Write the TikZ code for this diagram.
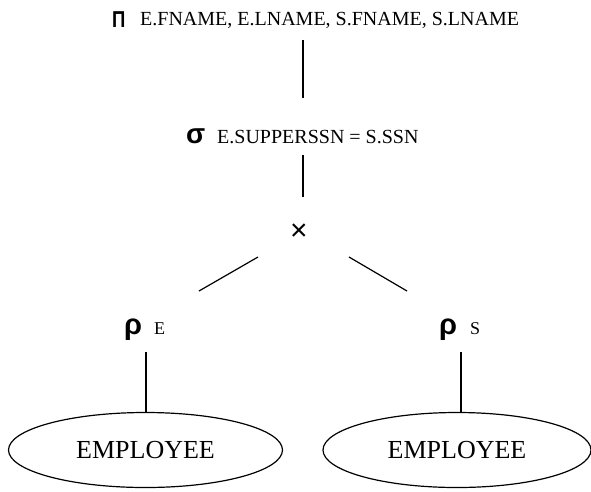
\documentclass[tikz,border=0pt]{standalone}
\usepackage{fontspec}
\setmainfont{Liberation Serif}
\newfontfamily\symf{Liberation Sans}
\usetikzlibrary{shapes.geometric}
\begin{document}
\begin{tikzpicture}[x=1pt,y=-1pt,
  lbl/.style={inner sep=0pt,font=\fontsize{20}{24}\selectfont},
  sym/.style={inner sep=0pt},
  rel/.style={draw,ellipse,line width=1.2pt,inner sep=0pt,minimum width=274pt,minimum height=75pt,font=\fontsize{26}{30}\selectfont},
  edge/.style={line width=1.2pt}]
\useasboundingbox (0,0) rectangle (591,491);
% projection
\node[sym,anchor=base west,font=\symf\bfseries\fontsize{23}{26}\selectfont,xscale=0.8] (pi) at (112,27) {Π};
\node[lbl,anchor=base west] (pitxt) at (140,25) {E.FNAME, E.LNAME, S.FNAME, S.LNAME};
% selection
\node[sym,anchor=base west,font=\symf\bfseries\fontsize{28}{30}\selectfont] (sigma) at (186,143) {σ};
\node[lbl,anchor=base west] (sigtxt) at (217,143) {E.SUPPERSSN = S.SSN};
% product
\node[sym,font=\symf\fontsize{30}{32}\selectfont] (times) at (299,232) {×};
% renames
\node[sym,anchor=base west,font=\symf\bfseries\fontsize{29}{32}\selectfont] (rhoE) at (124,334) {ρ};
\node[lbl,anchor=base west,font=\fontsize{18}{20}\selectfont] (subE) at (154,334) {E};
\node[sym,anchor=base west,font=\symf\bfseries\fontsize{29}{32}\selectfont] (rhoS) at (439,334) {ρ};
\node[lbl,anchor=base west,font=\fontsize{18}{20}\selectfont] (subS) at (470,334) {S};
% relations
\node[rel] (empE) at (145.5,450) {EMPLOYEE};
\node[rel,minimum width=268pt] (empS) at (457,450) {EMPLOYEE};
% connector ends
\coordinate (a1) at (303,40);
\coordinate (a2) at (303,98);
\coordinate (b1) at (303,155);
\coordinate (b2) at (303,197);
\coordinate (c1) at (258,257);
\coordinate (c2) at (199,291);
\coordinate (d1) at (349,257);
\coordinate (d2) at (407,291);
\coordinate (e1) at (146,352);
\coordinate (f1) at (461,352);
\draw[edge] (a1) -- (a2);
\draw[edge] (b1) -- (b2);
\draw[edge] (c1) -- (c2);
\draw[edge] (d1) -- (d2);
\draw[edge] (e1) -- (e1 |- empE.north);
\draw[edge] (f1) -- (f1 |- empS.north);
\end{tikzpicture}
\end{document}
